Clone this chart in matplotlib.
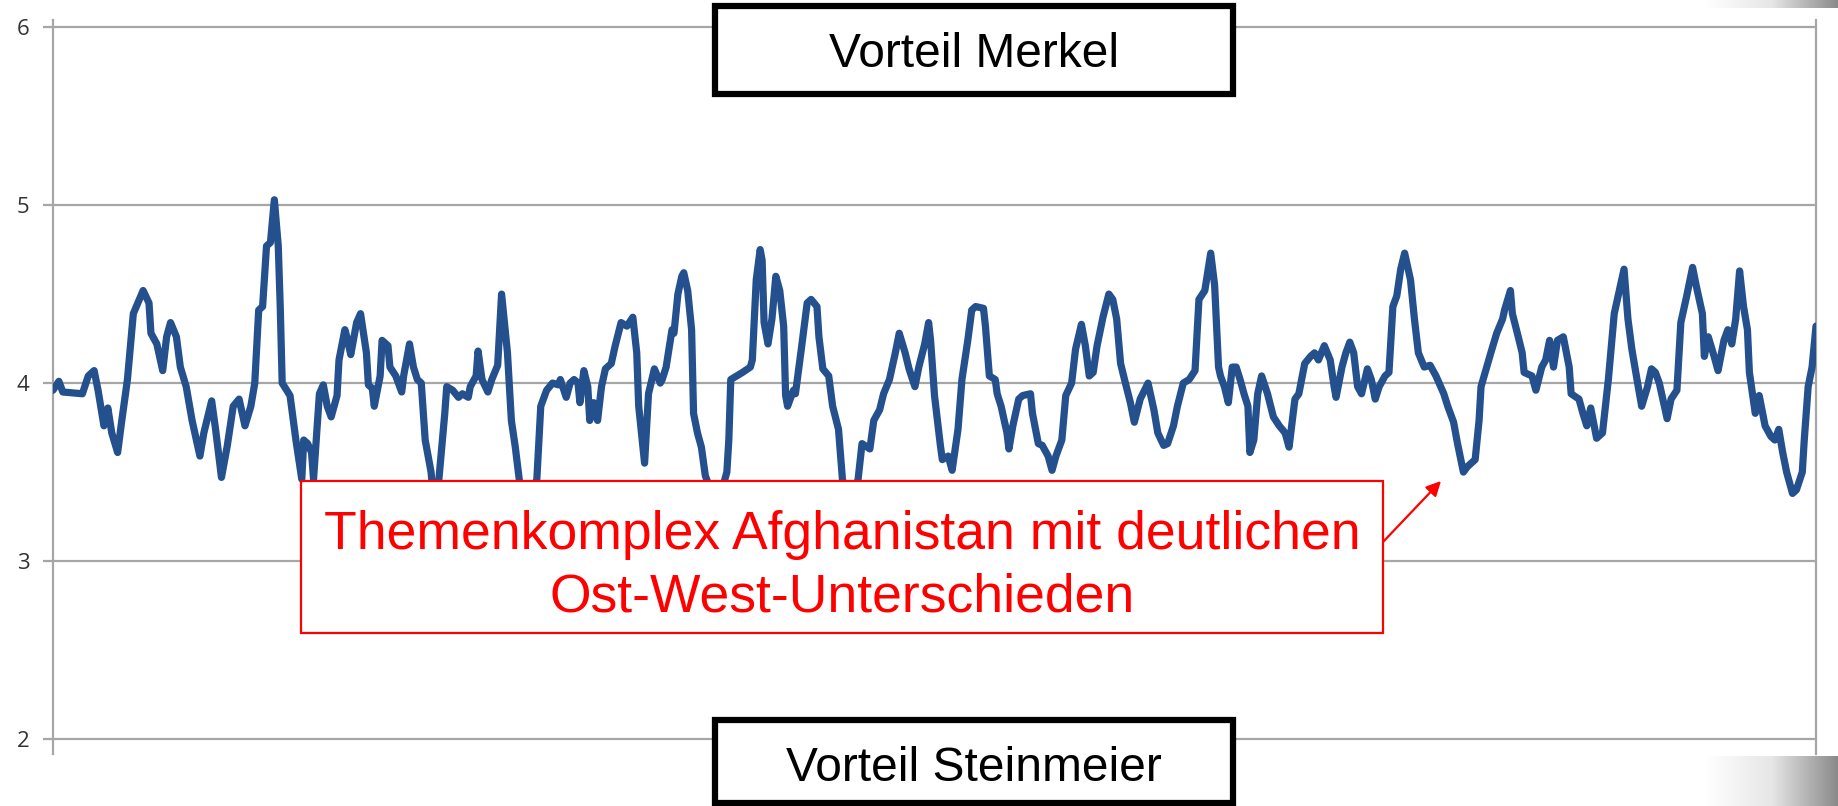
import numpy as np
import matplotlib
matplotlib.use("Agg")
import matplotlib.pyplot as plt
from matplotlib.patches import Rectangle
from matplotlib.colors import LinearSegmentedColormap

# live-response curve of the TV debate, minute of broadcast vs mean rating
minute = [
    0.0, 0.3, 0.5, 1.5, 1.8, 2.1, 2.3, 2.6, 2.8, 3.0, 3.3, 3.5, 3.8, 4.1, 4.6, 4.9,
    5.0, 5.3, 5.6, 5.8, 6.0, 6.3, 6.5, 6.8, 7.1, 7.5, 7.7, 8.1, 8.3, 8.6, 8.9, 9.2,
    9.5, 9.8, 10.1, 10.3, 10.5, 10.7, 10.9, 11.1, 11.3, 11.5, 11.6, 11.7, 12.1, 12.4,
    12.7, 12.8, 13.0, 13.2, 13.3, 13.6, 13.8, 14.0, 14.2, 14.5, 14.6, 14.9,
    15.0, 15.2, 15.5, 15.7, 16.0, 16.1, 16.3, 16.4, 16.7, 16.8, 17.1, 17.2, 17.5,
    17.8, 17.9, 18.2, 18.4, 18.6, 18.8, 19.0, 19.3, 19.5, 19.7, 20.0, 20.1, 20.4,
    20.7, 20.9, 21.2, 21.3, 21.6, 21.7, 21.9, 22.2, 22.4, 22.7, 22.9, 23.1, 23.2,
    23.4, 23.6, 23.8, 24.1, 24.7, 24.9, 25.2, 25.5, 25.8, 25.9, 26.2, 26.4, 26.6,
    26.8, 26.9, 27.1, 27.3, 27.4, 27.6, 27.8, 28.0, 28.2, 28.5, 28.7, 29.0, 29.3, 29.6,
    29.8, 29.9, 30.2, 30.4, 30.7, 31.0, 31.1, 31.3, 31.6, 31.7, 31.9, 32.1, 32.2,
    32.4, 32.6, 32.7, 32.9, 33.1, 33.3, 33.9, 34.4, 34.5, 34.6, 34.9, 35.2, 35.6,
    35.7, 35.9, 36.1, 36.2, 36.3, 36.5, 36.7, 36.9, 37.1, 37.3, 37.4, 37.5, 37.8,
    37.9, 38.2, 38.5, 38.7, 39.0, 39.1, 39.3, 39.6, 39.8, 40.1, 40.3, 40.7, 41.1,
    41.3, 41.7, 41.9, 42.2, 42.4, 42.7, 43.0, 43.2, 43.5, 43.7, 44.0, 44.2, 44.5, 44.7,
    44.8, 45.0, 45.3, 45.4, 45.7, 45.9, 46.2, 46.4, 46.7, 46.9, 47.1, 47.5, 47.6,
    47.8, 48.1, 48.2, 48.4, 48.7, 48.8, 49.0, 49.3, 49.5, 49.9, 50.0, 50.3, 50.5,
    50.8, 51.0, 51.2, 51.5, 51.7, 52.0, 52.2, 52.5, 52.7, 52.9, 53.1, 53.3, 53.6,
    53.9, 54.1, 54.3, 54.5, 54.7, 55.0, 55.2, 55.5, 55.9, 56.2, 56.4, 56.7, 56.9,
    57.2, 57.4, 57.7, 58.0, 58.3, 58.5, 58.8, 59.1, 59.3,
    59.5, 59.6, 59.8, 60.0, 60.2, 60.4, 60.6, 60.8, 61.0, 61.1, 61.3, 61.5, 61.7,
    62.0, 62.3, 62.6, 62.9, 63.1, 63.4, 63.6, 63.9, 64.2, 64.4, 64.6, 64.9, 65.2,
    65.4, 65.5, 65.8, 66.0, 66.2, 66.4, 66.6, 66.8, 67.1, 67.3, 67.5, 67.7, 68.0,
    68.2, 68.4, 68.6, 68.8, 69.0, 69.3, 69.5, 69.7, 70.0, 70.3, 70.6, 71.0, 71.2,
    71.5, 71.7, 72.0, 72.2, 72.6, 72.8, 72.9, 73.4, 73.7, 74.0,
    74.1, 74.4, 74.5, 74.8, 75.0, 75.1, 75.5, 75.7, 76.0, 76.2, 76.4, 76.6, 76.8,
    77.1, 77.4, 77.5, 77.9, 78.1, 78.3, 78.5, 78.8, 79.1, 79.4, 79.7, 80.2, 80.4,
    80.6, 80.8, 81.1, 81.4, 81.6, 81.8, 82.0, 82.4, 82.6, 82.9, 83.1, 83.4, 83.7,
    83.9, 84.2, 84.3, 84.5, 84.8, 85.0, 85.3, 85.5, 85.7, 85.9, 86.1, 86.3, 86.5,
    86.6, 86.9, 87.1, 87.4, 87.7, 87.9, 88.1, 88.3, 88.5, 88.8, 89.0, 89.3, 89.4,
    89.6, 89.8, 90.0,
]
rating = [
    3.96, 4.01, 3.95, 3.94, 4.04, 4.07, 3.96, 3.76, 3.86, 3.72, 3.61, 3.78, 4.02, 4.39, 4.52, 4.45,
    4.28, 4.22, 4.07, 4.26, 4.34, 4.26, 4.09, 3.98, 3.79, 3.59, 3.72, 3.90, 3.74, 3.47, 3.65, 3.87,
    3.91, 3.76, 3.87, 4.00, 4.41, 4.43, 4.77, 4.79, 5.03, 4.77, 4.43, 4.00, 3.93, 3.68,
    3.46, 3.68, 3.66, 3.61, 3.46, 3.94, 3.99, 3.87, 3.81, 3.93, 4.13, 4.30,
    4.26, 4.16, 4.34, 4.39, 4.17, 3.99, 3.97, 3.87, 4.04, 4.24, 4.21, 4.09, 4.04,
    3.95, 4.04, 4.22, 4.09, 4.02, 4.00, 3.68, 3.50, 3.25, 3.46, 3.83, 3.98, 3.96,
    3.92, 3.94, 3.92, 3.98, 4.04, 4.18, 4.02, 3.95, 4.02, 4.10, 4.50, 4.28, 4.17,
    3.79, 3.64, 3.46, 3.25, 3.46, 3.87, 3.96, 4.00, 3.99, 4.02, 3.92, 4.00, 4.02,
    4.00, 3.89, 4.07, 3.98, 3.79, 3.89, 3.79, 3.98, 4.08, 4.11, 4.21, 4.34, 4.32, 4.37,
    4.17, 3.87, 3.55, 3.94, 4.08, 4.00, 4.02, 4.09, 4.30, 4.28, 4.50, 4.60, 4.62,
    4.52, 4.30, 3.83, 3.72, 3.64, 3.48, 3.30, 3.50, 3.68, 4.02, 4.04, 4.06, 4.09,
    4.13, 4.58, 4.75, 4.69, 4.34, 4.22, 4.36, 4.60, 4.52, 4.32, 3.93, 3.87, 3.96,
    3.94, 4.19, 4.45, 4.47, 4.43, 4.26, 4.08, 4.04, 3.87, 3.74, 3.46, 3.30, 3.46,
    3.66, 3.63, 3.79, 3.85, 3.94, 4.02, 4.17, 4.28, 4.17, 4.08, 3.98, 4.09, 4.22, 4.34,
    4.24, 3.93, 3.65, 3.57, 3.59, 3.51, 3.74, 4.02, 4.24, 4.41, 4.43, 4.42, 4.32,
    4.04, 4.02, 3.94, 3.87, 3.72, 3.63, 3.76, 3.91, 3.93, 3.94, 3.83, 3.66, 3.65,
    3.59, 3.51, 3.59, 3.68, 3.93, 4.00, 4.19, 4.33, 4.21, 4.04, 4.06, 4.21, 4.37,
    4.50, 4.47, 4.36, 4.11, 4.02, 3.89, 3.78, 3.91, 4.00, 3.85, 3.72, 3.65, 3.66,
    3.76, 3.87, 4.00, 4.02, 4.07, 4.47, 4.52, 4.73, 4.55,
    4.09, 4.04, 3.98, 3.89, 4.09, 4.09, 4.02, 3.94, 3.87, 3.61, 3.68, 3.94, 4.04,
    3.94, 3.81, 3.76, 3.72, 3.64, 3.91, 3.94, 4.11, 4.15, 4.17, 4.13, 4.21, 4.13,
    3.98, 3.92, 4.09, 4.17, 4.23, 4.17, 3.98, 3.94, 4.08, 4.02, 3.91, 3.98, 4.04,
    4.06, 4.43, 4.49, 4.64, 4.73, 4.58, 4.36, 4.17, 4.09, 4.10, 4.04, 3.94, 3.87,
    3.78, 3.66, 3.50, 3.53, 3.57, 3.79, 3.98, 4.17, 4.28, 4.36,
    4.41, 4.52, 4.39, 4.26, 4.17, 4.06, 4.04, 3.96, 4.09, 4.13, 4.24, 4.09, 4.24,
    4.26, 4.09, 3.94, 3.91, 3.83, 3.76, 3.86, 3.69, 3.72, 4.02, 4.39, 4.64, 4.36,
    4.19, 4.06, 3.87, 3.98, 4.08, 4.06, 4.00, 3.80, 3.91, 3.96, 4.34, 4.49, 4.65,
    4.54, 4.39, 4.15, 4.26, 4.15, 4.07, 4.24, 4.30, 4.22, 4.36, 4.63, 4.43, 4.30,
    4.06, 3.83, 3.93, 3.76, 3.70, 3.68, 3.74, 3.61, 3.50, 3.38, 3.40, 3.50, 3.68,
    3.98, 4.09, 4.32,
]
y_ticks = [2, 3, 4, 5, 6]

label_top = "Vorteil Merkel"
label_bottom = "Vorteil Steinmeier"
note_lines = ["Themenkomplex Afghanistan mit deutlichen", "Ost-West-Unterschieden"]

W, H = 1838, 806
fig = plt.figure(figsize=(W / 100, H / 100), dpi=100)
fig.patch.set_facecolor("white")

# plot area in pixel units of the slide
ax = fig.add_axes([53 / W, (H - 754) / H, (1816 - 53) / W, (754 - 20) / H])
ax.plot(minute, rating, color="#24508d", lw=5.2, solid_joinstyle="round",
        solid_capstyle="round", zorder=3)
ax.set_xlim(0, 90)
ax.set_ylim(1.916, 6.04)
ax.set_yticks(y_ticks)
ax.set_yticklabels([str(t) for t in y_ticks])
ax.set_xticks([])
ax.grid(axis="y", color="#a6a6a6", lw=1.6, zorder=1)
ax.tick_params(axis="y", length=7, width=1.6, color="#a6a6a6", pad=10,
               labelsize=16, labelcolor="#333333")
for lab in ax.get_yticklabels():
    lab.set_fontfamily(["Open Sans", "DejaVu Sans"])
for side in ("top", "bottom"):
    ax.spines[side].set_visible(False)
for side in ("left", "right"):
    ax.spines[side].set_color("#a6a6a6")
    ax.spines[side].set_linewidth(1.6)

# grey slide decoration at the right
grey = LinearSegmentedColormap.from_list("slide", ["#ffffff", "#ffffff", "#e6e6e6", "#8a8a8a"])
grad = np.linspace(0, 1, 256).reshape(1, -1)
for x0, y0, x1, y1 in [(1640, 0, 1838, 8), (1640, 756, 1838, 806)]:
    gax = fig.add_axes([x0 / W, (H - y1) / H, (x1 - x0) / W, (y1 - y0) / H])
    gax.imshow(grad, aspect="auto", cmap=grey)
    gax.set_axis_off()

font = ["Liberation Sans", "DejaVu Sans"]

# black boxes at top and bottom, text placed on its baseline
for (x0, y0, x1, y1), txt, base in [((715, 6, 1233, 94), label_top, 67),
                                    ((715, 720, 1233, 803), label_bottom, 781)]:
    fig.add_artist(Rectangle((x0 / W, (H - y1) / H), (x1 - x0) / W, (y1 - y0) / H,
                             transform=fig.transFigure, facecolor="white",
                             edgecolor="black", lw=4.5, zorder=5))
    fig.text((x0 + x1) / 2 / W, (H - base) / H, txt, ha="center", va="baseline",
             fontsize=34.5, family=font, color="black", zorder=6)

# red note box with arrow
fig.add_artist(Rectangle((301 / W, (H - 633) / H), (1383 - 301) / W, (633 - 481) / H,
                         transform=fig.transFigure, facecolor="white",
                         edgecolor="#ff0000", lw=1.6, zorder=5))
for line, base in zip(note_lines, [549, 611]):
    fig.text(842 / W, (H - base) / H, line, ha="center", va="baseline",
             fontsize=38.5, family=font, color="#ff0000", zorder=6)
ax.annotate("", xy=(1441, H - 481), xycoords="figure pixels",
            xytext=(1383, H - 542), textcoords="figure pixels",
            arrowprops=dict(arrowstyle="-|>", color="#ff0000", lw=1.6,
                            mutation_scale=22, shrinkA=0, shrinkB=0))

fig.savefig("out.png", dpi=100)
